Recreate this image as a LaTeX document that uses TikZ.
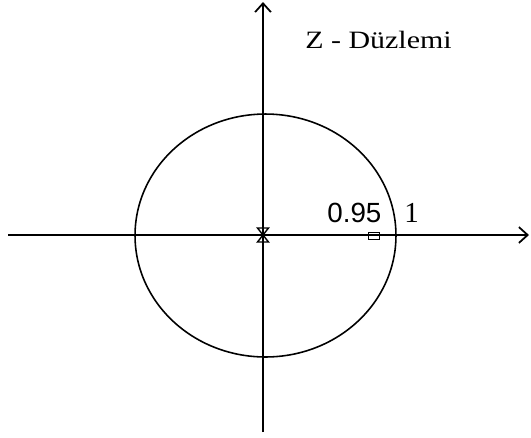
\documentclass[tikz,border=0pt]{standalone}
\usepackage{fontspec}
\setmainfont{Liberation Serif}
\setsansfont{Liberation Sans}
\usetikzlibrary{arrows.meta}

\begin{document}
\begin{tikzpicture}[
  x=0.02cm, y=-0.02cm,
  axis/.style={line width=1.1pt,-{Straight Barb[length=5pt,width=9pt,line width=1pt]}},
  unit/.style={line width=0.9pt},
  zero/.style={draw,line width=0.7pt,minimum width=0.22cm,minimum height=0.15cm,inner sep=0pt},
  lbl/.style={inner sep=0pt,anchor=base west}
]
  \useasboundingbox (0,0) rectangle (531,437);
  \coordinate (xl) at (8,235);
  \coordinate (xr) at (529,235);
  \coordinate (yb) at (263,432);
  \coordinate (yt) at (263,2);
  \coordinate (o) at (263,235);
  \coordinate (c) at (265.5,235.5);
  \draw[axis] (xl) -- (xr);
  \draw[axis] (yb) -- (yt);
  \draw[unit] (c) ellipse [x radius=2.61cm, y radius=2.43cm];
  % double pole at origin
  \draw[line width=0.8pt] ([shift={(-5.5,-7)}]o) -- ([shift={(5.5,-7)}]o)
    -- ([shift={(-5.5,7)}]o) -- ([shift={(5.5,7)}]o) -- cycle;
  \node[zero] (z) at (374,236) {};
  \node[lbl,font=\sffamily\fontsize{15.8}{18}\selectfont] (l95) at (327,222) {0.95};
  \node[lbl,font=\fontsize{16.5}{18}\selectfont] (l1) at (404,222) {1};
  \node[lbl,font=\fontsize{14.2}{16}\selectfont] (title) at (305,48) {\scalebox{1.2}[1]{Z - Düzlemi}};
\end{tikzpicture}
\end{document}
